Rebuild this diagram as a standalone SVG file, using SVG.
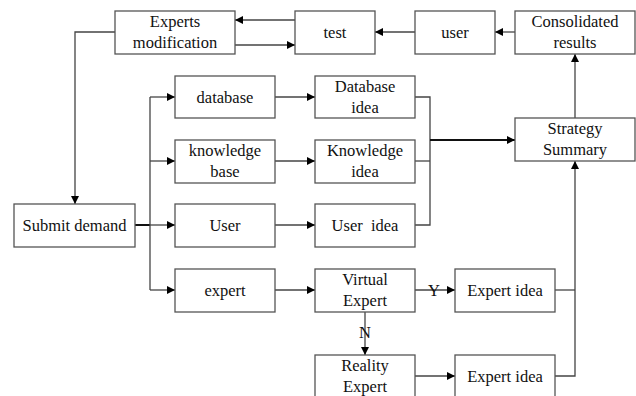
<svg xmlns="http://www.w3.org/2000/svg" width="636" height="396" viewBox="0 0 636 396">
<defs>
<marker id="ah" viewBox="0 0 10 10" refX="10" refY="5" markerWidth="8" markerHeight="8" markerUnits="userSpaceOnUse" orient="auto">
<path d="M0,0 L10,5 L0,10 z" fill="#000"/>
</marker>
<style>
.box{fill:#fff;stroke:#555;stroke-width:1.3}
.t{font-family:'Liberation Serif','Times New Roman',Times,serif;font-size:16.5px;fill:#111;text-anchor:middle}
.c{fill:none;stroke:#444;stroke-width:1.3}
.b{fill:none;stroke:#111;stroke-width:2}
</style>
</defs>
<rect width="636" height="396" fill="#fff"/>
<g id="connectors">
<path class="c" d="M295,20 H235" marker-end="url(#ah)"/>
<path class="c" d="M235,45 H295" marker-end="url(#ah)"/>
<path class="c" d="M415,32 H375" marker-end="url(#ah)"/>
<path class="c" d="M515,32 H495" marker-end="url(#ah)"/>
<path class="c" d="M115,32 H75 V204" marker-end="url(#ah)"/>
<path class="b" d="M135,225 H150"/>
<path class="c" d="M150,97 V290"/>
<path class="c" d="M150,97 H175" marker-end="url(#ah)"/>
<path class="c" d="M150,161 H175" marker-end="url(#ah)"/>
<path class="c" d="M150,225 H175" marker-end="url(#ah)"/>
<path class="c" d="M150,290 H175" marker-end="url(#ah)"/>
<path class="c" d="M275,97 H315" marker-end="url(#ah)"/>
<path class="c" d="M275,161 H315" marker-end="url(#ah)"/>
<path class="c" d="M275,225 H315" marker-end="url(#ah)"/>
<path class="c" d="M275,290 H315" marker-end="url(#ah)"/>
<path class="c" d="M415,97 H430 V225 H415"/>
<path class="c" d="M415,161 H430"/>
<path class="b" d="M430,140 H515" marker-end="url(#ah)"/>
<path class="c" d="M415,290 H455" marker-end="url(#ah)"/>
<path class="c" d="M365,312 V355" marker-end="url(#ah)"/>
<path class="c" d="M415,376 H455" marker-end="url(#ah)"/>
<path class="c" d="M555,290 H575"/>
<path class="c" d="M555,376 H575 V161" marker-end="url(#ah)"/>
<path class="c" d="M575,118 V54" marker-end="url(#ah)"/>
<text class="t" x="434" y="296">Y</text>
<text class="t" x="365" y="338">N</text>
</g>
<g id="experts-mod"><rect class="box" x="115" y="11" width="120" height="43"/><text class="t" x="175" y="27">Experts</text><text class="t" x="175" y="48">modification</text></g>
<g id="test"><rect class="box" x="295" y="11" width="80" height="43"/><text class="t" x="335" y="38">test</text></g>
<g id="user-top"><rect class="box" x="415" y="11" width="80" height="43"/><text class="t" x="455" y="38">user</text></g>
<g id="consolidated"><rect class="box" x="515" y="11" width="120" height="43"/><text class="t" x="575" y="27">Consolidated</text><text class="t" x="575" y="48">results</text></g>
<g id="database"><rect class="box" x="175" y="76" width="100" height="42"/><text class="t" x="225" y="103">database</text></g>
<g id="database-idea"><rect class="box" x="315" y="76" width="100" height="42"/><text class="t" x="365" y="92">Database</text><text class="t" x="365" y="113">idea</text></g>
<g id="knowledge-base"><rect class="box" x="175" y="140" width="100" height="43"/><text class="t" x="225" y="156">knowledge</text><text class="t" x="225" y="177">base</text></g>
<g id="knowledge-idea"><rect class="box" x="315" y="140" width="100" height="43"/><text class="t" x="365" y="156">Knowledge</text><text class="t" x="365" y="177">idea</text></g>
<g id="strategy"><rect class="box" x="515" y="118" width="120" height="43"/><text class="t" x="575" y="134">Strategy</text><text class="t" x="575" y="155">Summary</text></g>
<g id="submit"><rect class="box" x="14" y="204" width="121" height="43"/><text class="t" x="74.5" y="231">Submit demand</text></g>
<g id="user"><rect class="box" x="175" y="204" width="100" height="43"/><text class="t" x="225" y="231">User</text></g>
<g id="user-idea"><rect class="box" x="315" y="204" width="100" height="43"/><text class="t" x="365" y="231" xml:space="preserve">User  idea</text></g>
<g id="expert"><rect class="box" x="175" y="269" width="100" height="43"/><text class="t" x="225" y="296">expert</text></g>
<g id="virtual-expert"><rect class="box" x="315" y="269" width="100" height="43"/><text class="t" x="365" y="285">Virtual</text><text class="t" x="365" y="306">Expert</text></g>
<g id="expert-idea-1"><rect class="box" x="455" y="269" width="100" height="43"/><text class="t" x="505" y="296">Expert idea</text></g>
<g id="reality-expert"><rect class="box" x="315" y="355" width="100" height="43"/><text class="t" x="365" y="371">Reality</text><text class="t" x="365" y="392">Expert</text></g>
<g id="expert-idea-2"><rect class="box" x="455" y="355" width="100" height="43"/><text class="t" x="505" y="382">Expert idea</text></g>
</svg>
